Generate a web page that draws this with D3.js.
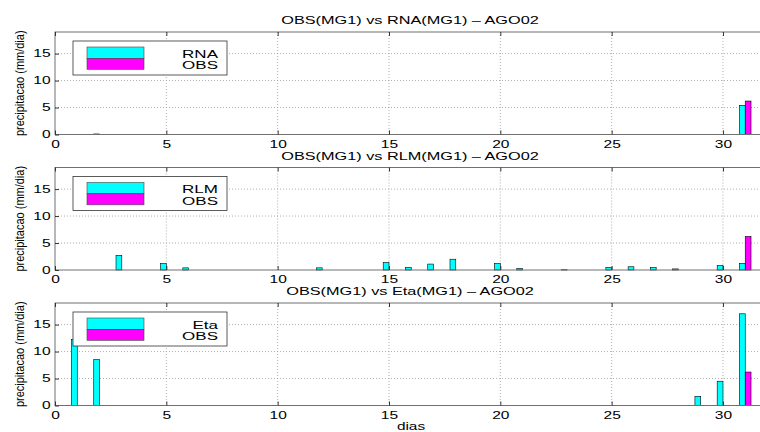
<!DOCTYPE html>
<html>
<head>
<meta charset="utf-8">
<script src="https://cdn.jsdelivr.net/npm/d3@7"></script>
<style>
  body { margin: 0; background: #fff; }
  text { font-family: "Liberation Sans", Arial, sans-serif; }
</style>
</head>
<body>
<div id="viz"></div>
<script>
// days of August 2002
var DAYS = d3.range(1, 32);

// observed precipitation (mm/dia), same for all three panels
var OBS = [0,0,0,0,0,0,0,0,0,0,0,0,0,0,0,0,0,0,0,0,0,0,0,0,0,0,0,0,0,0,6.2];

// model estimates
var RNA = [0,0.1,0,0,0,0,0,0,0,0,0,0,0,0,0,0,0,0,0,0,0,0,0,0,0,0,0,0,0,0,5.4];
var RLM = [0,0,2.7,0,1.2,0.4,0,0,0,0,0,0.4,0,0,1.4,0.45,1.1,2.0,0,1.2,0.3,0,0.05,0,0.5,0.6,0.45,0.2,0,0.8,1.2];
var ETA = [12.2,8.5,0,0,0,0,0,0,0,0,0,0,0,0,0,0,0,0,0,0,0,0,0,0,0,0,0,0,1.7,4.5,17.0];

var PANELS = [
  { name: "RNA", title: "OBS(MG1) vs RNA(MG1) \u2013 AGO02", model: RNA },
  { name: "RLM", title: "OBS(MG1) vs RLM(MG1) \u2013 AGO02", model: RLM },
  { name: "Eta", title: "OBS(MG1) vs Eta(MG1) \u2013 AGO02", model: ETA }
];

var X_TICKS = [0, 5, 10, 15, 20, 25, 30];
var Y_TICKS = [0, 5, 10, 15];

var SVG_WIDTH = 760, SVG_HEIGHT = 432;
var LEFT = 55, RIGHT = 767.5;
var TOPS = [32, 167.5, 303], PLOT_H = 102.5;
var AXIS_COLOR = "#707070", GRID_COLOR = "#9a9a9a";
var CYAN = "#00ffff", MAGENTA = "#ff00ff";
var STRETCH = 1.48;   // the original text is drawn wide

var svg = d3.select("#viz").append("svg")
  .attr("width", SVG_WIDTH)
  .attr("height", SVG_HEIGHT);

var x = d3.scaleLinear().domain([0, 32]).range([LEFT, RIGHT]);
var BW = 0.26;

PANELS.forEach(function(p, k){
  var top = TOPS[k];
  var y = d3.scaleLinear().domain([0, 19]).range([top + PLOT_H, top]);
  var g = svg.append("g");

  // grid
  g.selectAll("line.gx").data(X_TICKS.slice(1)).enter().append("line")
    .attr("x1", x).attr("x2", x).attr("y1", top).attr("y2", top + PLOT_H)
    .attr("stroke", GRID_COLOR).attr("stroke-width", 0.8).attr("stroke-dasharray", "1,2");
  g.selectAll("line.gy").data(Y_TICKS.slice(1)).enter().append("line")
    .attr("x1", LEFT).attr("x2", RIGHT).attr("y1", y).attr("y2", y)
    .attr("stroke", GRID_COLOR).attr("stroke-width", 0.8).attr("stroke-dasharray", "1,2");

  // bars
  var data = DAYS.map(function(d, i){ return { day: d, m: p.model[i], o: OBS[i] }; });
  g.selectAll("rect.m").data(data.filter(function(d){ return d.m > 0; })).enter().append("rect")
    .attr("x", function(d){ return x(d.day - BW); })
    .attr("width", x(BW) - x(0))
    .attr("y", function(d){ return y(d.m); })
    .attr("height", function(d){ return y(0) - y(d.m); })
    .attr("fill", CYAN).attr("stroke", "#000").attr("stroke-width", 0.6);
  g.selectAll("rect.o").data(data.filter(function(d){ return d.o > 0; })).enter().append("rect")
    .attr("x", function(d){ return x(d.day); })
    .attr("width", x(BW) - x(0))
    .attr("y", function(d){ return y(d.o); })
    .attr("height", function(d){ return y(0) - y(d.o); })
    .attr("fill", MAGENTA).attr("stroke", "#000").attr("stroke-width", 0.6);

  // axes box
  g.append("rect")
    .attr("x", LEFT).attr("y", top).attr("width", RIGHT - LEFT).attr("height", PLOT_H)
    .attr("fill", "none").attr("stroke", AXIS_COLOR).attr("stroke-width", 1);

  var xb = g.append("g").attr("transform", "translate(0," + (top + PLOT_H) + ")")
    .call(d3.axisBottom(x).tickValues(X_TICKS).tickSize(-4).tickPadding(6));
  var xt = g.append("g").attr("transform", "translate(0," + top + ")")
    .call(d3.axisTop(x).tickValues(X_TICKS).tickSize(-4).tickFormat(""));
  var yl = g.append("g").attr("transform", "translate(" + LEFT + ",0)")
    .call(d3.axisLeft(y).tickValues(Y_TICKS).tickSize(-4).tickPadding(3));
  [xb, xt, yl].forEach(function(a){
    a.select(".domain").remove();
    a.selectAll(".tick line").attr("stroke", "#333");
    a.selectAll(".tick text").attr("fill", "#000").style("font-size", "10.5px")
      .attr("transform", "scale(" + STRETCH + ",1)");
  });

  // title
  g.append("text")
    .attr("transform", "translate(410," + (top - 8) + ") scale(" + STRETCH + ",1)")
    .attr("text-anchor", "middle")
    .style("font-size", "11px")
    .text(p.title);

  // y label
  g.append("text")
    .attr("transform", "translate(24," + (top + PLOT_H / 2) + ") scale(1.15,1) rotate(-90)")
    .attr("text-anchor", "middle")
    .style("font-size", "11px")
    .text("precipitacao (mm/dia)");

  // legend
  var lg = g.append("g").attr("transform", "translate(73," + (top + 9) + ")");
  lg.append("rect").attr("width", 154).attr("height", 34)
    .attr("fill", "#fff").attr("stroke", "#333").attr("stroke-width", 0.8);
  lg.append("rect").attr("x", 14).attr("y", 6).attr("width", 57).attr("height", 11.3)
    .attr("fill", CYAN).attr("stroke", "#444").attr("stroke-width", 0.6);
  lg.append("rect").attr("x", 14).attr("y", 17.3).attr("width", 57).attr("height", 11)
    .attr("fill", MAGENTA).attr("stroke", "#444").attr("stroke-width", 0.6);
  lg.append("text").attr("transform", "translate(145,16.5) scale(" + STRETCH + ",1)")
    .attr("text-anchor", "end")
    .style("font-size", "11.5px").text(p.name);
  lg.append("text").attr("transform", "translate(145,28) scale(" + STRETCH + ",1)")
    .attr("text-anchor", "end")
    .style("font-size", "11.5px").text("OBS");
});

// x label
svg.append("text")
  .attr("transform", "translate(411,430) scale(1.4,1)")
  .attr("text-anchor", "middle")
  .style("font-size", "11px")
  .text("dias");
</script>
</body>
</html>
